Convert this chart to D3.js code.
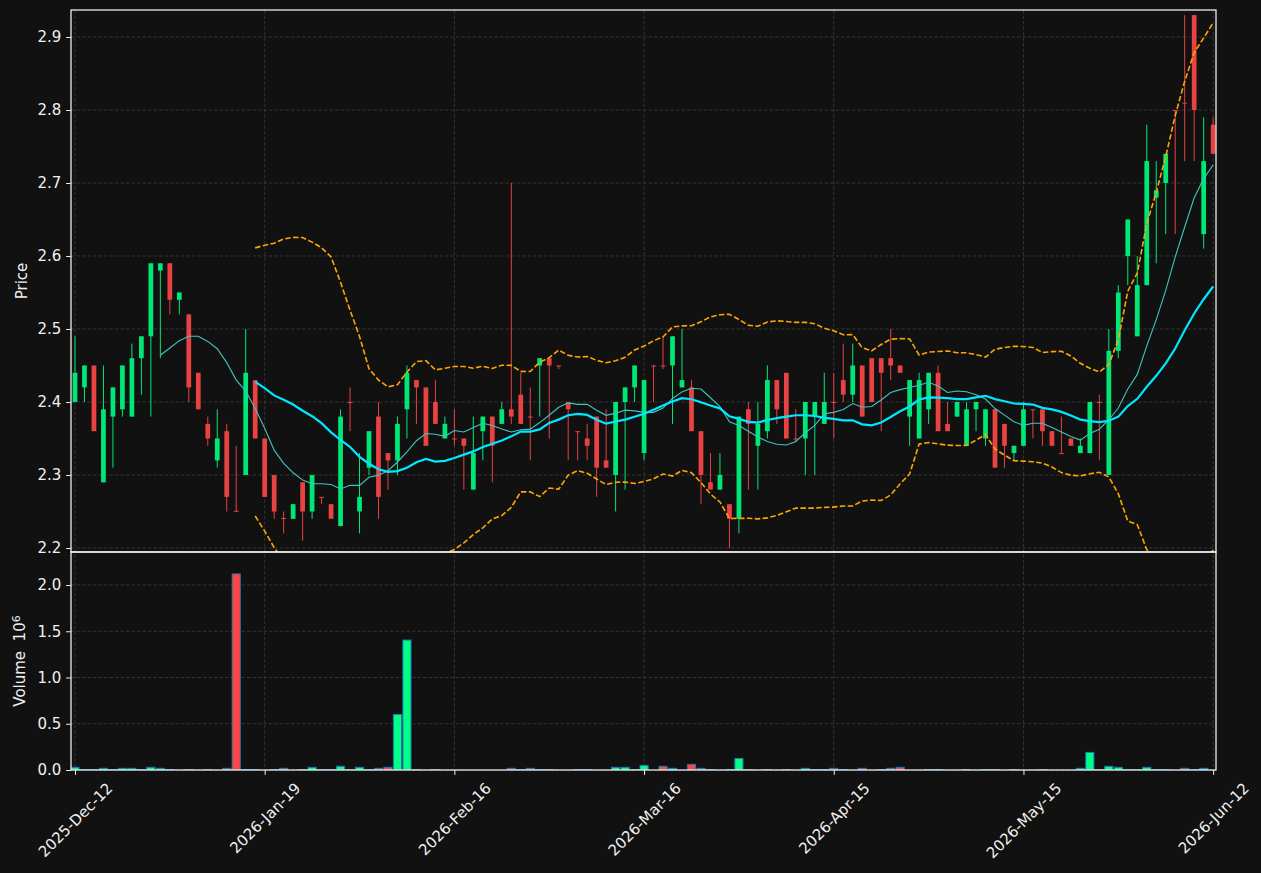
<!DOCTYPE html>
<html>
<head>
<meta charset="utf-8">
<style>
  body { margin: 0; background: #111111; }
  svg { display: block; font-family: "DejaVu Sans", sans-serif; }
  .axis .tick text { fill: #f0f0f0; font-size: 15px; font-family: "DejaVu Sans", sans-serif; }
  .axis .tick line { stroke: #f0f0f0; stroke-width: 1; }
  .axis .domain { display: none; }
  .grid line { stroke: #3c3c3c; stroke-width: 0.8; stroke-dasharray: 3.5,2; }
</style>
<script src="https://cdn.jsdelivr.net/npm/d3@7"></script>
</head>
<body>
<script>
// x tick positions (candle index) and their date labels
const tickIdx = [0, 20, 40, 60, 80, 100, 120];
const tickLabels = ['2025-Dec-12', '2026-Jan-19', '2026-Feb-16', '2026-Mar-16',
                    '2026-Apr-15', '2026-May-15', '2026-Jun-12'];

// daily OHLC (121 sessions)
const opens = [
  2.40, 2.42, 2.45, 2.29, 2.38, 2.39, 2.38, 2.46, 2.49, 2.58,
  2.59, 2.54, 2.52, 2.44, 2.37, 2.32, 2.36, 2.251, 2.30, 2.43,
  2.35, 2.30, 2.241, 2.24, 2.29, 2.25, 2.27, 2.26, 2.23, 2.40,
  2.25, 2.31, 2.38, 2.33, 2.32, 2.39, 2.43, 2.42, 2.40, 2.35,
  2.35, 2.35, 2.28, 2.36, 2.38, 2.37, 2.39, 2.41, 2.38, 2.45,
  2.46, 2.45, 2.40, 2.36, 2.35, 2.38, 2.32, 2.30, 2.40, 2.42,
  2.33, 2.45, 2.45, 2.45, 2.42, 2.42, 2.36, 2.29, 2.28, 2.26,
  2.24, 2.39, 2.34, 2.36, 2.43, 2.44, 2.35, 2.35, 2.38, 2.37,
  2.40, 2.43, 2.41, 2.45, 2.46, 2.46, 2.46, 2.45, 2.38, 2.35,
  2.39, 2.44, 2.37, 2.38, 2.34, 2.39, 2.35, 2.39, 2.37, 2.33,
  2.34, 2.39, 2.39, 2.36, 2.33, 2.35, 2.33, 2.33, 2.40, 2.30,
  2.47, 2.60, 2.49, 2.56, 2.68, 2.70, 2.80, 2.81, 2.93, 2.63,
  2.78
];
const highs = [
  2.49, 2.45, 2.45, 2.45, 2.42, 2.45, 2.48, 2.49, 2.59, 2.59,
  2.59, 2.55, 2.52, 2.44, 2.38, 2.39, 2.37, 2.34, 2.50, 2.43,
  2.35, 2.30, 2.25, 2.26, 2.29, 2.30, 2.27, 2.26, 2.39, 2.42,
  2.33, 2.36, 2.40, 2.33, 2.38, 2.45, 2.43, 2.42, 2.43, 2.38,
  2.39, 2.35, 2.38, 2.38, 2.38, 2.40, 2.70, 2.44, 2.42, 2.46,
  2.46, 2.45, 2.40, 2.36, 2.37, 2.38, 2.39, 2.40, 2.42, 2.45,
  2.43, 2.45, 2.49, 2.49, 2.50, 2.43, 2.36, 2.33, 2.33, 2.26,
  2.38, 2.40, 2.40, 2.45, 2.43, 2.44, 2.39, 2.40, 2.40, 2.44,
  2.44, 2.48, 2.48, 2.45, 2.46, 2.46, 2.50, 2.45, 2.43, 2.44,
  2.44, 2.45, 2.40, 2.40, 2.40, 2.40, 2.39, 2.39, 2.37, 2.34,
  2.40, 2.39, 2.39, 2.36, 2.38, 2.35, 2.35, 2.40, 2.41, 2.50,
  2.56, 2.65, 2.60, 2.78, 2.73, 2.74, 2.80, 2.93, 2.93, 2.79,
  2.79
];
const lows = [
  2.40, 2.40, 2.36, 2.29, 2.31, 2.38, 2.38, 2.41, 2.38, 2.46,
  2.52, 2.52, 2.40, 2.39, 2.34, 2.31, 2.25, 2.25, 2.30, 2.35,
  2.27, 2.24, 2.22, 2.24, 2.21, 2.24, 2.26, 2.24, 2.23, 2.36,
  2.22, 2.30, 2.24, 2.28, 2.30, 2.35, 2.37, 2.34, 2.37, 2.35,
  2.34, 2.28, 2.28, 2.32, 2.29, 2.37, 2.37, 2.37, 2.32, 2.38,
  2.35, 2.445, 2.32, 2.32, 2.32, 2.27, 2.31, 2.25, 2.28, 2.40,
  2.32, 2.40, 2.445, 2.37, 2.42, 2.36, 2.26, 2.28, 2.28, 2.20,
  2.22, 2.28, 2.28, 2.35, 2.37, 2.35, 2.345, 2.30, 2.30, 2.37,
  2.35, 2.40, 2.40, 2.38, 2.40, 2.36, 2.43, 2.44, 2.34, 2.35,
  2.37, 2.36, 2.36, 2.38, 2.34, 2.36, 2.34, 2.31, 2.31, 2.32,
  2.34, 2.35, 2.34, 2.34, 2.33, 2.34, 2.33, 2.33, 2.32, 2.30,
  2.46, 2.56, 2.49, 2.56, 2.59, 2.63, 2.63, 2.73, 2.73, 2.61,
  2.74
];
const closes = [
  2.44, 2.45, 2.36, 2.39, 2.42, 2.45, 2.46, 2.49, 2.59, 2.59,
  2.54, 2.55, 2.42, 2.39, 2.35, 2.35, 2.27, 2.25, 2.44, 2.35,
  2.27, 2.25, 2.24, 2.26, 2.25, 2.30, 2.269, 2.24, 2.38, 2.399,
  2.27, 2.36, 2.27, 2.32, 2.37, 2.44, 2.42, 2.34, 2.37, 2.37,
  2.349, 2.34, 2.33, 2.38, 2.34, 2.39, 2.38, 2.37, 2.379, 2.46,
  2.45, 2.449, 2.39, 2.359, 2.34, 2.31, 2.31, 2.40, 2.42, 2.45,
  2.43, 2.449, 2.449, 2.49, 2.43, 2.36, 2.30, 2.28, 2.30, 2.24,
  2.38, 2.37, 2.37, 2.43, 2.39, 2.35, 2.349, 2.40, 2.40, 2.40,
  2.399, 2.41, 2.45, 2.38, 2.40, 2.44, 2.45, 2.44, 2.43, 2.43,
  2.44, 2.36, 2.36, 2.40, 2.39, 2.40, 2.39, 2.31, 2.34, 2.34,
  2.39, 2.389, 2.36, 2.34, 2.329, 2.34, 2.34, 2.40, 2.399, 2.47,
  2.55, 2.65, 2.56, 2.73, 2.69, 2.74, 2.799, 2.809, 2.80, 2.73,
  2.74
];
const volumes = [
  29000, 4000, 4000, 18000, 4000, 18000, 18000, 4000, 29000, 18000,
  4000, 0, 4000, 0, 4000, 0, 18000, 2120000, 4000, 4000,
  0, 4000, 18000, 0, 4000, 29000, 4000, 4000, 40000, 4000,
  29000, 4000, 18000, 29000, 600000, 1405000, 4000, 0, 4000, 0,
  0, 0, 0, 0, 0, 0, 18000, 4000, 18000, 4000,
  4000, 0, 0, 4000, 4000, 0, 0, 29000, 29000, 4000,
  50000, 0, 40000, 18000, 0, 61000, 18000, 4000, 0, 4000,
  125000, 4000, 0, 4000, 0, 4000, 0, 18000, 4000, 4000,
  18000, 4000, 0, 18000, 0, 4000, 18000, 29000, 0, 0,
  4000, 4000, 0, 0, 4000, 0, 4000, 4000, 0, 4000,
  0, 0, 4000, 0, 0, 0, 18000, 190000, 4000, 40000,
  29000, 4000, 4000, 29000, 4000, 4000, 0, 18000, 4000, 18000,
  0
];

const width = 1261, height = 873;
const left = 71, right = 1216, priceTop = 10, split = 552, volBottom = 770;
const pt = 100 / 72;
const fs = 15;

const upColor = '#00e778', downColor = '#e84242';
const volUp = '#00ff84', volDown = '#ff4646', volEdge = '#1f77b4';

const candles = opens.map((o, i) => ({ i, o, h: highs[i], l: lows[i], c: closes[i], v: volumes[i] }));

function rollMean(arr, n) {
  return arr.map((_, i) => i < n - 1 ? null : d3.mean(arr.slice(i - n + 1, i + 1)));
}
function rollStd(arr, n) {
  return arr.map((_, i) => {
    if (i < n - 1) return null;
    const w = arr.slice(i - n + 1, i + 1), m = d3.mean(w);
    return Math.sqrt(d3.mean(w, v => (v - m) * (v - m)));
  });
}
const ma10 = rollMean(closes, 10);
const ma20 = rollMean(closes, 20);
const sd20 = rollStd(closes, 20);
const upper = ma20.map((m, i) => m == null ? null : m + 2 * sd20[i]);
const lower = ma20.map((m, i) => m == null ? null : m - 2 * sd20[i]);

const x = d3.scaleLinear().domain([-0.42, 120.3]).range([left, right]);
const yP = d3.scaleLinear().domain([2.1945, 2.937]).range([split, priceTop]);
const yV = d3.scaleLinear().domain([0, 2.357e6]).range([volBottom, split]);
const step = x(1) - x(0);

const svg = d3.select('body').append('svg')
  .attr('width', width).attr('height', height)
  .style('background', '#111111');

svg.append('rect').attr('width', width).attr('height', height).attr('fill', '#111111');

const defs = svg.append('defs');
defs.append('clipPath').attr('id', 'clipP').append('rect')
  .attr('x', left).attr('y', priceTop).attr('width', right - left).attr('height', split - priceTop);
defs.append('clipPath').attr('id', 'clipV').append('rect')
  .attr('x', left).attr('y', split).attr('width', right - left).attr('height', volBottom - split);

// grid
const priceTicks = [2.2, 2.3, 2.4, 2.5, 2.6, 2.7, 2.8, 2.9];
const volTicks = [0, 0.5e6, 1e6, 1.5e6, 2e6];
const grid = svg.append('g').attr('class', 'grid');
grid.selectAll('.gp').data(priceTicks).join('line')
  .attr('x1', left).attr('x2', right).attr('y1', d => yP(d)).attr('y2', d => yP(d));
grid.selectAll('.gv').data(volTicks).join('line')
  .attr('x1', left).attr('x2', right).attr('y1', d => yV(d)).attr('y2', d => yV(d));
grid.selectAll('.gx').data(tickIdx).join('line')
  .attr('x1', d => x(d)).attr('x2', d => x(d)).attr('y1', priceTop).attr('y2', volBottom);

// candles
const cg = svg.append('g').attr('clip-path', 'url(#clipP)');
const bw = step * 0.5;
cg.selectAll('line.wick').data(candles).join('line')
  .attr('class', 'wick')
  .attr('x1', d => x(d.i)).attr('x2', d => x(d.i))
  .attr('y1', d => yP(d.h)).attr('y2', d => yP(d.l))
  .attr('stroke', d => d.c >= d.o ? upColor : downColor)
  .attr('stroke-width', 1);
cg.selectAll('rect.body').data(candles).join('rect')
  .attr('class', 'body')
  .attr('x', d => x(d.i) - bw / 2).attr('width', bw)
  .attr('y', d => yP(Math.max(d.o, d.c)))
  .attr('height', d => Math.max(1, Math.abs(yP(d.o) - yP(d.c))))
  .attr('fill', d => d.c >= d.o ? upColor : downColor);

// moving averages and bands
const line = arr => d3.line()
  .defined(d => arr[d.i] != null)
  .x(d => x(d.i)).y(d => yP(arr[d.i]))(candles);

cg.append('path').attr('d', line(ma10)).attr('fill', 'none')
  .attr('stroke', '#3fc6c0').attr('stroke-width', 1.1);
cg.append('path').attr('d', line(ma20)).attr('fill', 'none')
  .attr('stroke', '#00e8ff').attr('stroke-width', 2.2);
[upper, lower].forEach(b => {
  cg.append('path').attr('d', line(b)).attr('fill', 'none')
    .attr('stroke', '#ffa500').attr('stroke-width', 1.6)
    .attr('stroke-dasharray', '5.5,2.4');
});

// volume
const vg = svg.append('g').attr('clip-path', 'url(#clipV)');
const vw = step * 0.86;
vg.selectAll('rect').data(candles.filter(d => d.v > 0)).join('rect')
  .attr('x', d => x(d.i) - vw / 2).attr('width', vw)
  .attr('y', d => yV(d.v)).attr('height', d => yV(0) - yV(d.v))
  .attr('fill', d => d.c >= d.o ? volUp : volDown)
  .attr('stroke', volEdge).attr('stroke-width', 1);

// spines
[[priceTop, split], [split, volBottom]].forEach(([t, b]) => {
  svg.append('rect').attr('x', left).attr('y', t).attr('width', right - left).attr('height', b - t)
    .attr('fill', 'none').attr('stroke', '#ffffff').attr('stroke-width', 1.2);
});

// axes
const tl = 3.5 * pt;
const yAxisP = svg.append('g').attr('class', 'axis').attr('transform', `translate(${left},0)`)
  .call(d3.axisLeft(yP).tickValues(priceTicks).tickFormat(d3.format('.1f')).tickSize(tl).tickPadding(tl));
const yAxisV = svg.append('g').attr('class', 'axis').attr('transform', `translate(${left},0)`)
  .call(d3.axisLeft(yV).tickValues(volTicks).tickFormat(d => (d / 1e6).toFixed(1)).tickSize(tl).tickPadding(tl));

const xa = svg.append('g').attr('class', 'axis').attr('transform', `translate(0,${volBottom})`)
  .call(d3.axisBottom(x).tickValues(tickIdx).tickFormat((d, i) => tickLabels[i]).tickSize(tl));

[yAxisP, yAxisV, xa].forEach(a => a.attr('font-family', '"DejaVu Sans", sans-serif').attr('font-size', fs));

xa.selectAll('.tick text').each(function() {
  const t = d3.select(this);
  const L = this.getComputedTextLength();
  const hgt = fs * 1.1;
  const boxH = (L + hgt) * Math.SQRT1_2;
  t.attr('text-anchor', 'middle').attr('x', 0).attr('y', 0).attr('dy', '0.35em')
    .attr('transform', `translate(0,${tl * 2 + boxH / 2}) rotate(-45)`);
});

// axis labels
svg.append('text').attr('transform', `translate(22,${(priceTop + split) / 2}) rotate(-90)`)
  .attr('text-anchor', 'middle').attr('dy', '0.35em')
  .attr('fill', '#f0f0f0').style('font-size', fs + 'px').text('Price');
const vl = svg.append('text').attr('transform', `translate(20,${(split + volBottom) / 2}) rotate(-90)`)
  .attr('text-anchor', 'middle').attr('dy', '0.35em')
  .attr('fill', '#f0f0f0').style('font-size', fs + 'px');
vl.append('tspan').text('Volume\u00a0\u00a010');
vl.append('tspan').attr('dy', '-0.45em').style('font-size', '11px').text('6');
</script>
</body>
</html>
